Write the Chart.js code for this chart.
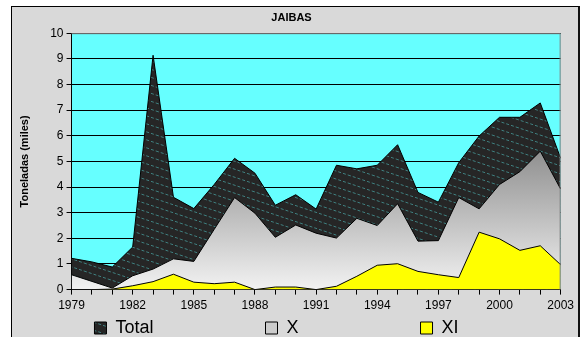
<!DOCTYPE html>
<html>
<head>
<meta charset="utf-8">
<script src="https://cdn.jsdelivr.net/npm/chart.js@4/dist/chart.umd.min.js"></script>
<style>
  html, body { margin: 0; padding: 0; background: #ffffff; width: 582px; height: 337px; overflow: hidden; }
  #frame {
    position: absolute; left: 11px; top: 6px;
    width: 566px; height: 345px;
    border-top: 1px solid #000; border-left: 1px solid #000; border-right: 2px solid #111;
    background: #d9d9d9;
  }
  #wrap { position: absolute; left: 0; top: 0; width: 566px; height: 340px; }
</style>
</head>
<body>
<div id="frame"><div id="wrap"><canvas id="c"></canvas></div></div>
<script>
// Capturas de jaiba por región (miles de toneladas)
const years = [1979, 1980, 1981, 1982, 1983, 1984, 1985, 1986, 1987, 1988, 1989, 1990, 1991,
               1992, 1993, 1994, 1995, 1996, 1997, 1998, 1999, 2000, 2001, 2002, 2003];
const total = [1.22, 1.08, 0.88, 1.66, 9.14, 3.6, 3.16, 4.1, 5.12, 4.54, 3.29, 3.7, 3.14,
               4.85, 4.71, 4.85, 5.65, 3.79, 3.41, 4.95, 5.99, 6.72, 6.72, 7.28, 5.12];
const regionX = [0.58, 0.32, 0.06, 0.54, 0.8, 1.2, 1.1, 2.35, 3.59, 2.98, 2.04, 2.52, 2.2,
                 2.01, 2.78, 2.5, 3.35, 1.89, 1.91, 3.59, 3.15, 4.1, 4.6, 5.4, 3.92];
const regionXI = [0, 0, 0.02, 0.15, 0.31, 0.6, 0.29, 0.23, 0.29, 0, 0.1, 0.1, 0,
                  0.13, 0.52, 0.95, 1.01, 0.71, 0.58, 0.47, 2.24, 1.98, 1.53, 1.71, 0.97];
const yTicks = { min: 0, max: 10, step: 1 };
const labelEvery = 3;

// Relleno rayado para la serie Total
function hatchPattern() {
  const p = document.createElement('canvas');
  p.width = 24; p.height = 8;
  const g = p.getContext('2d');
  g.fillStyle = '#262626';
  g.fillRect(0, 0, 24, 8);
  g.strokeStyle = 'rgba(70,150,150,0.8)';
  g.lineWidth = 1;
  g.setLineDash([3, 2]);
  g.beginPath();
  g.moveTo(0, 0); g.lineTo(24, 8);
  g.moveTo(0, -8); g.lineTo(24, 0);
  g.moveTo(0, 8); g.lineTo(24, 16);
  g.stroke();
  return g.createPattern(p, 'repeat');
}

// Degradado vertical gris para la serie X
function grayGradient(ctx) {
  const area = ctx.chart.chartArea;
  if (!area || !area.bottom) return '#c4c4c4';
  const gr = ctx.chart.ctx.createLinearGradient(0, area.top, 0, area.bottom);
  gr.addColorStop(0, '#3c3c3c');
  gr.addColorStop(1, '#f2f2f2');
  return gr;
}

// Fondo y marco del área de trazado
const plotBackground = {
  id: 'plotBackground',
  beforeDraw(chart) {
    const { ctx, chartArea: a } = chart;
    ctx.save();
    ctx.fillStyle = '#66ffff';
    ctx.fillRect(a.left, a.top, a.right - a.left, a.bottom - a.top);
    ctx.restore();
  },
  afterDraw(chart) {
    const { ctx, chartArea: a } = chart;
    ctx.save();
    ctx.strokeStyle = '#808080';
    ctx.lineWidth = 1;
    ctx.beginPath();
    ctx.moveTo(a.left, a.top + 0.5);
    ctx.lineTo(a.right - 0.5, a.top + 0.5);
    ctx.lineTo(a.right - 0.5, a.bottom);
    ctx.stroke();
    ctx.restore();
  }
};

const font = 'Arial, "Liberation Sans", sans-serif';
// Separación horizontal entre las entradas de la leyenda (en espacios)
const legendGap = { Total: 22, X: 24, XI: 6 };
// Color de las muestras de la leyenda
const legendSwatch = { X: '#cccccc' };

new Chart(document.getElementById('c'), {
  type: 'line',
  data: {
    labels: years.map(String),
    datasets: [
      { label: 'Total', data: total, order: 2, fill: 'origin',
        backgroundColor: hatchPattern(), borderColor: '#000', borderWidth: 1 },
      { label: 'X', data: regionX, order: 1, fill: 'origin',
        backgroundColor: grayGradient, borderColor: '#000', borderWidth: 1 },
      { label: 'XI', data: regionXI, order: 0, fill: 'origin',
        backgroundColor: '#ffff00', borderColor: '#000', borderWidth: 1 }
    ]
  },
  options: {
    responsive: true,
    maintainAspectRatio: false,
    animation: false,
    elements: { point: { radius: 0 }, line: { tension: 0 } },
    layout: { padding: { left: 6, right: 13, top: 0, bottom: 0 } },
    plugins: {
      title: {
        display: true, text: 'JAIBAS', color: '#000',
        font: { family: font, size: 11, weight: 'bold' },
        padding: { top: 4, bottom: 9 }
      },
      legend: {
        position: 'bottom',
        labels: {
          color: '#000',
          font: { family: font, size: 18 },
          boxWidth: 12, boxHeight: 12, padding: 2,
          sort: (a, b) => a.datasetIndex - b.datasetIndex,
          generateLabels(chart) {
            const items = Chart.defaults.plugins.legend.labels.generateLabels(chart);
            items.forEach(it => {
              if (legendSwatch[it.text]) it.fillStyle = legendSwatch[it.text];
              it.text = it.text + ' '.repeat(legendGap[it.text] || 0);
            });
            return items;
          }
        }
      },
      tooltip: { enabled: false }
    },
    scales: {
      x: {
        type: 'category',
        offset: false,
        grid: { display: true, drawOnChartArea: false, drawTicks: true, tickLength: 5, color: '#000' },
        border: { color: '#000' },
        ticks: {
          color: '#000', font: { family: font, size: 12 },
          autoSkip: false, maxRotation: 0, padding: 4,
          callback: function (v, i) { return i % labelEvery === 0 ? this.getLabelForValue(v) : ''; }
        }
      },
      y: {
        min: yTicks.min, max: yTicks.max,
        grid: { color: '#000', tickLength: 5 },
        border: { color: '#000' },
        ticks: { stepSize: yTicks.step, autoSkip: false, color: '#000', font: { family: font, size: 12 }, padding: 3 },
        title: {
          display: true, text: 'Toneladas (miles)', color: '#000',
          font: { family: font, size: 11, weight: 'bold' }, padding: { top: 0, bottom: 16 }
        }
      }
    }
  },
  plugins: [plotBackground]
});
</script>
</body>
</html>
